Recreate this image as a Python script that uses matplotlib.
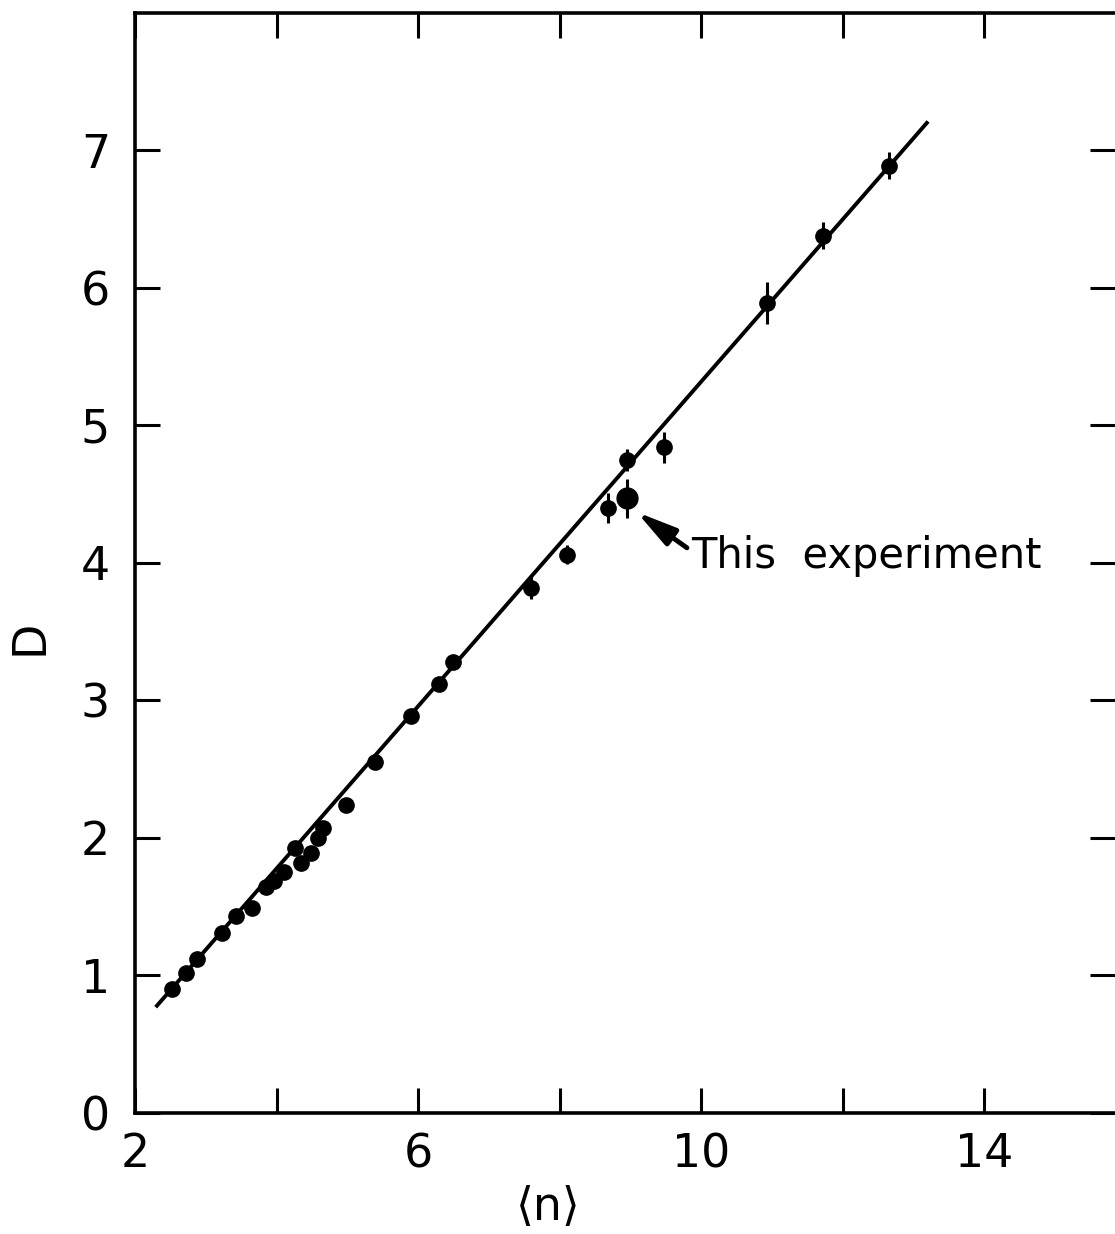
import numpy as np
import matplotlib
matplotlib.use("Agg")
import matplotlib.pyplot as plt

# data: D versus <n>
n_mean = [2.52, 2.72, 2.88, 3.23, 3.42, 3.66, 3.85, 3.96, 4.10, 4.26, 4.34, 4.49, 4.59, 4.66, 4.98,
          5.39, 5.90, 6.30, 6.50, 7.60, 8.10, 8.69, 8.96, 9.48, 10.93, 11.73, 12.66]
d_val = [0.90, 1.02, 1.12, 1.31, 1.43, 1.49, 1.64, 1.69, 1.75, 1.93, 1.82, 1.89, 2.00, 2.07, 2.24,
         2.55, 2.89, 3.12, 3.28, 3.82, 4.06, 4.40, 4.75, 4.84, 5.89, 6.38, 6.89]
d_err = [0, 0, 0, 0, 0, 0, 0, 0, 0, 0, 0, 0, 0, 0, 0,
         0.05, 0.05, 0.05, 0.05, 0.08, 0.07, 0.11, 0.08, 0.11, 0.15, 0.10, 0.10]

# this experiment
this_n = [8.96]
this_d = [4.47]
this_err = [0.14]

# straight line fit
fit_n = [2.31, 13.19]
fit_d = [0.78, 7.20]

x_ticks = [2, 4, 6, 8, 10, 12, 14]
x_ticklabels = ["2", "", "6", "", "10", "", "14"]
y_ticks = [0, 1, 2, 3, 4, 5, 6, 7]

plt.rcParams["font.family"] = ["DejaVu Sans"]

fig = plt.figure(figsize=(11.15, 12.34), dpi=100)
ax = fig.add_axes([0.1211, 0.0981, 0.8789, 0.8914])

ax.plot(fit_n, fit_d, color="black", lw=2.8)
ax.errorbar(n_mean, d_val, yerr=d_err, fmt="o", color="black", ms=11, elinewidth=2.2, capsize=0)
ax.errorbar(this_n, this_d, yerr=this_err, fmt="o", color="black", ms=15, elinewidth=2.2, capsize=0)

# arrow pointing at this experiment, label separately
ax.annotate("", xy=(9.09, 4.37), xytext=(9.80, 4.11),
            arrowprops=dict(arrowstyle="-|>,head_length=1.2,head_width=0.3", color="black",
                            lw=3.5, shrinkA=0, shrinkB=0, mutation_scale=20))
ax.text(9.86, 4.05, "This  experiment", fontsize=30, ha="left", va="center")

ax.set_xlim(2, 15.85)
ax.set_ylim(0, 8)
ax.set_xticks(x_ticks)
ax.set_xticklabels(x_ticklabels)
ax.set_yticks(y_ticks)

ax.tick_params(direction="in", length=18, width=2.2, labelsize=33, top=True, right=True)
ax.tick_params(axis="x", pad=14)
ax.tick_params(axis="y", pad=18)
for s in ["left", "bottom", "top"]:
    ax.spines[s].set_linewidth(2.6)
ax.spines["right"].set_visible(False)

fig.text(30 / 1115, 1 - 637 / 1234, "D", rotation=90, fontsize=33, ha="center", va="center")
fig.text(548 / 1115, 1 - 1208 / 1234, "\u27e8n\u27e9", fontsize=33, ha="center", va="center")

fig.savefig("out.png", dpi=100)
